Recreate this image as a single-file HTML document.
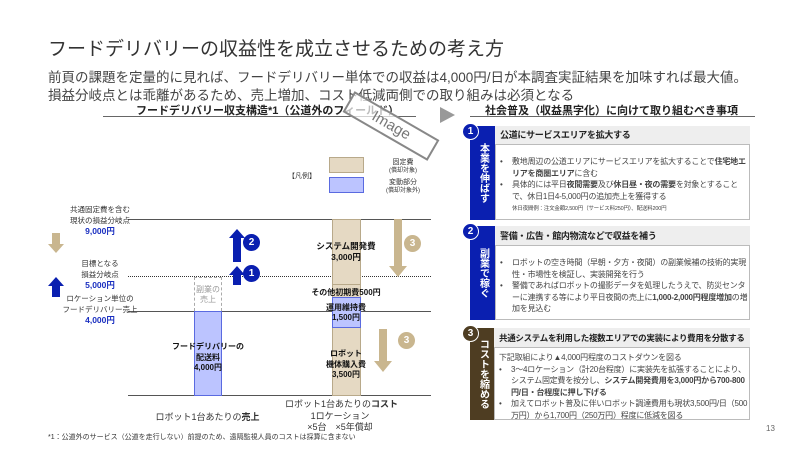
<!DOCTYPE html>
<html><head><meta charset="utf-8"><style>
*{margin:0;padding:0;box-sizing:border-box}
body{width:800px;height:450px;background:#fff;position:relative;overflow:hidden;font-family:"Liberation Sans","Noto Sans CJK JP",sans-serif;color:#333}
.a{position:absolute;white-space:nowrap}
.c{text-align:center}
.b{font-weight:bold}
.bl{color:#1a2fc0;font-weight:bold;font-size:8.5px}
.ln{position:absolute;height:0}
.tab{position:absolute;color:#fff;font-weight:bold;font-size:10px;writing-mode:vertical-rl;display:flex;align-items:center;justify-content:center;letter-spacing:0px;line-height:1}
.num{position:absolute;width:17px;height:17px;border-radius:50%;color:#fff;font-size:10px;font-weight:bold;text-align:center;line-height:15px;border:1.5px solid #fff}
.box{position:absolute;border:1px solid #bbb}
.hd{position:absolute;background:#eee;border-bottom:1px solid #bbb;font-size:9px;font-weight:bold;padding-left:5px;color:#222;letter-spacing:-0.3px;white-space:nowrap}
.bd{position:absolute;font-size:8px;line-height:11.5px;color:#444;letter-spacing:-0.2px}
.bd li{list-style:none;padding-left:12px;text-indent:-12px}
.bd li:before{content:"•";display:inline-block;width:12px;text-indent:0}
</style></head><body>
<div class="a" style="left:48px;top:34px;font-size:19px;color:#333">フードデリバリーの収益性を成立させるための考え方</div>
<div class="a" style="left:48px;top:66px;font-size:13.5px;color:#444">前頁の課題を定量的に見れば、フードデリバリー単体での収益は4,000円/日が本調査実証結果を加味すれば最大値。</div>
<div class="a" style="left:48px;top:84px;font-size:13.5px;color:#444">損益分岐点とは乖離があるため、売上増加、コスト低減両側での取り組みは必須となる</div>

<div class="a b" style="left:136px;top:102px;font-size:11px;color:#222">フードデリバリー収支構造*1（公道外のフィールド）</div>
<div class="ln" style="left:103px;top:116px;width:313px;border-top:1.5px solid #666"></div>
<div class="a" style="left:342px;top:114px;width:98px;height:24px;border:2px solid #888;background:rgba(255,255,255,.7);transform:rotate(30deg);font-size:15px;color:#777;text-align:center;line-height:20px">Image</div>

<div class="a" style="left:288px;top:171px;font-size:7px">【凡例】</div>
<div class="a" style="left:329px;top:157px;width:35px;height:16px;background:#e5d9c3;border:1px solid #b8a98a"></div>
<div class="a" style="left:329px;top:177px;width:35px;height:16px;background:#bcc4ff;border:1px solid #5a6ae0"></div>
<div class="a c" style="left:380px;top:159px;width:46px;font-size:7px;line-height:8px">固定費<br><span style="font-size:6px">(償却対象)</span></div>
<div class="a c" style="left:380px;top:179px;width:46px;font-size:7px;line-height:8px">変動部分<br><span style="font-size:6px">(償却対象外)</span></div>

<div class="ln" style="left:128px;top:219px;width:303px;border-top:1px solid #555"></div>
<div class="ln" style="left:128px;top:276px;width:303px;border-top:1px dotted #333"></div>
<div class="ln" style="left:128px;top:311px;width:303px;border-top:1px solid #555"></div>
<div class="ln" style="left:128px;top:395px;width:303px;border-top:1.5px solid #555"></div>

<div class="a c" style="left:50px;top:205px;width:100px;font-size:7.5px;line-height:10.5px">共通固定費を含む<br>現状の損益分岐点<br><span class="bl">9,000円</span></div>
<div class="a c" style="left:50px;top:259px;width:100px;font-size:7.5px;line-height:10.5px">目標となる<br>損益分岐点<br><span class="bl">5,000円</span></div>
<div class="a c" style="left:50px;top:294px;width:100px;font-size:7.5px;line-height:10.5px">ロケーション単位の<br>フードデリバリー売上<br><span class="bl">4,000円</span></div>

<svg class="a" style="left:0;top:0" width="800" height="450">
<polygon points="52,233 60,233 60,244 64,244 56,253 48,244 52,244" fill="#c9b68f"/>
<polygon points="56,277 64,286 60,286 60,297 52,297 52,286 48,286" fill="#0a1fb0"/>
<polygon points="237,229 245,238 241,238 241,262 233,262 233,238 229,238" fill="#0a1fb0"/>
<polygon points="237,266 245,275 241,275 241,285 233,285 233,275 229,275" fill="#0a1fb0"/>
<polygon points="394,219 402,219 402,266 407,266 398,277 389,266 394,266" fill="#c9b68f"/>
<polygon points="379,329 387,329 387,361 392,361 383,372 374,361 379,361" fill="#c9b68f"/>
<polygon points="440,107 455,115 440,123" fill="#999"/>
</svg>
<div class="num" style="left:243px;top:234px;background:#0a1fb0;border-color:#0a1fb0">2</div>
<div class="num" style="left:243px;top:265px;background:#0a1fb0;border-color:#0a1fb0">1</div>
<div class="num" style="left:404px;top:235px;background:#c9b68f;border-color:#c9b68f">3</div>
<div class="num" style="left:398px;top:332px;background:#c9b68f;border-color:#c9b68f">3</div>

<div class="a" style="left:194px;top:277px;width:28px;height:34px;border:1px dashed #aaa;border-bottom:none"></div>
<div class="a c" style="left:190px;top:285px;width:36px;font-size:8px;line-height:10px;color:#999">副業の<br>売上</div>
<div class="a" style="left:194px;top:311px;width:28px;height:85px;background:#bcc4ff;border:1px solid #5a6ae0"></div>
<div class="a c b" style="left:158px;top:342px;width:100px;font-size:8px;line-height:10.5px;color:#111">フードデリバリーの<br>配送料<br>4,000円</div>

<div class="a" style="left:332px;top:219px;width:29px;height:177px;background:#e5d9c3;border:1px solid #b8a98a"></div>
<div class="ln" style="left:332px;top:284px;width:29px;border-top:1px solid #b8a98a"></div>
<div class="a" style="left:332px;top:297px;width:29px;height:31px;background:#bcc4ff;border:1px solid #5a6ae0"></div>
<div class="a c b" style="left:296px;top:241px;width:100px;font-size:8.5px;line-height:11px;color:#111">システム開発費<br>3,000円</div>
<div class="a c b" style="left:296px;top:287px;width:100px;font-size:8px;color:#111">その他初期費500円</div>
<div class="a c b" style="left:296px;top:303px;width:100px;font-size:8px;line-height:10px;color:#111">運用維持費<br>1,500円</div>
<div class="a c b" style="left:296px;top:349px;width:100px;font-size:8px;line-height:10.5px;color:#111">ロボット<br>機体購入費<br>3,500円</div>

<div class="a c" style="left:150px;top:410px;width:115px;font-size:9px">ロボット1台あたりの<b>売上</b></div>
<div class="a c" style="left:285px;top:399px;width:110px;font-size:9px;line-height:11.5px">ロボット1台あたりの<b>コスト</b><br>1ロケーション<br>×5台　×5年償却</div>
<div class="a" style="left:48px;top:432px;font-size:7px;color:#333">*1：公道外のサービス（公道を走行しない）前提のため、遠隔監視人員のコストは採算に含まない</div>

<div class="a b" style="left:485px;top:102px;font-size:11px;color:#222">社会普及（収益黒字化）に向けて取り組むべき事項</div>
<div class="ln" style="left:470px;top:116px;width:285px;border-top:1.5px solid #666"></div>

<div class="tab" style="left:470px;top:126px;width:25px;height:94px;background:#0a1fb0">本業を伸ばす</div>
<div class="box" style="left:495px;top:126px;width:255px;height:94px"></div>
<div class="hd" style="left:495px;top:126px;width:255px;height:19px;line-height:19px">公道にサービスエリアを拡大する</div>
<div class="bd" style="left:500px;top:156px;width:250px"><ul>
<li>敷地周辺の公道エリアにサービスエリアを拡大することで<b>住宅地エリアを商圏エリア</b>に含む</li>
<li>具体的には平日<b>夜間需要</b>及び<b>休日昼・夜の需要</b>を対象とすることで、休日1日4-5,000円の追加売上を獲得する<br><span style="font-size:5.5px;line-height:8px">休日夜間例：注文金額2,500円（サービス料250円）、配送料200円</span></li></ul></div>
<div class="num" style="left:462px;top:123px;background:#0a1fb0">1</div>

<div class="tab" style="left:470px;top:226px;width:25px;height:94px;background:#0a1fb0">副業で稼ぐ</div>
<div class="box" style="left:495px;top:226px;width:255px;height:94px"></div>
<div class="hd" style="left:495px;top:226px;width:255px;height:20px;line-height:20px">警備・広告・館内物流などで収益を補う</div>
<div class="bd" style="left:500px;top:257px;width:250px"><ul>
<li>ロボットの空き時間（早朝・夕方・夜間）の副業候補の技術的実現性・市場性を検証し、実装開発を行う</li>
<li>警備であればロボットの撮影データを処理したうえで、防災センターに連携する等により平日夜間の売上に<b>1,000-2,000円程度増加</b>の増加を見込む</li></ul></div>
<div class="num" style="left:462px;top:223px;background:#0a1fb0">2</div>

<div class="tab" style="left:470px;top:328px;width:25px;height:92px;background:#4e3d22">コストを縮める</div>
<div class="box" style="left:494px;top:328px;width:256px;height:92px"></div>
<div class="hd" style="left:494px;top:328px;width:256px;height:20px;line-height:20px;font-size:8.5px">共通システムを利用した複数エリアでの実装により費用を分散する</div>
<div class="bd" style="left:499px;top:352px;width:250px">下記取組により▲4,000円程度のコストダウンを図る<ul>
<li>3～4ロケーション（計20台程度）に実装先を拡張することにより、システム固定費を按分し、<b>システム開発費用を3,000円から700-800円/日・台程度に押し下げる</b></li>
<li>加えてロボット普及に伴いロボット調達費用も現状3,500円/日（500万円）から1,700円（250万円）程度に低減を図る</li></ul></div>
<div class="num" style="left:462px;top:325px;background:#4e3d22">3</div>

<div class="a" style="left:766px;top:424px;font-size:8px;color:#666">13</div>
</body></html>
